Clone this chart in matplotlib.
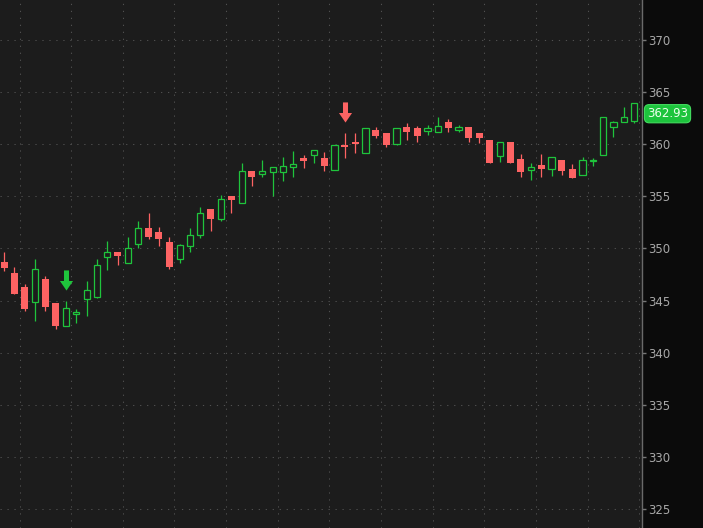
import matplotlib
matplotlib.use("Agg")
import matplotlib.pyplot as plt
import numpy as np
from matplotlib.path import Path
from matplotlib.transforms import offset_copy, blended_transform_factory

# OHLC, one entry per bar
opens = [348.70, 347.64, 346.30, 344.83, 347.07, 344.76, 342.59, 343.76, 345.18, 345.37,
         349.15, 349.63, 348.57, 350.46, 351.96, 351.58, 350.62, 349.02, 350.26, 351.32,
         353.78, 352.85, 355.03, 354.33, 357.43, 357.17, 357.36, 357.31, 357.85, 358.68,
         358.94, 358.68, 357.56, 359.93, 360.21, 359.13, 361.34, 361.08, 359.99, 361.65,
         361.56, 361.24, 361.14, 362.13, 361.33, 361.63, 361.08, 360.41, 358.84, 360.21,
         358.58, 357.50, 358.01, 357.59, 358.46, 357.62, 357.08, 358.36, 358.94, 361.62,
         362.10, 362.26]
highs = [349.63, 348.19, 346.56, 348.99, 347.33, 344.76, 344.96, 344.16, 346.88, 348.99,
         350.74, 349.63, 351.07, 352.63, 353.40, 352.06, 351.07, 350.40, 351.93, 353.98,
         353.78, 355.10, 355.03, 358.17, 357.43, 358.46, 357.79, 358.74, 359.32, 358.94,
         359.45, 359.22, 359.90, 361.05, 361.05, 361.53, 361.62, 361.08, 361.53, 362.00,
         361.75, 361.82, 362.58, 362.39, 361.82, 361.63, 361.08, 360.41, 360.18, 360.21,
         359.06, 358.20, 359.06, 358.74, 358.46, 358.07, 358.74, 358.65, 362.58, 362.20,
         363.54, 363.93]
lows = [347.87, 345.60, 344.00, 343.07, 344.03, 342.24, 342.59, 342.88, 343.52, 345.21,
        347.93, 348.38, 348.57, 350.04, 350.94, 350.21, 348.00, 348.57, 349.69, 350.97,
        351.70, 352.66, 353.43, 354.33, 356.02, 356.83, 355.00, 356.50, 356.88, 357.75,
        358.23, 357.46, 357.56, 358.65, 359.13, 359.13, 360.57, 359.70, 359.90, 360.38,
        360.18, 360.86, 361.14, 361.14, 361.20, 360.18, 360.09, 358.17, 358.27, 358.20,
        356.88, 356.57, 356.88, 356.98, 357.08, 356.79, 357.08, 357.88, 358.94, 360.66,
        362.10, 362.00]
closes = [348.12, 345.66, 344.19, 348.00, 344.41, 342.59, 344.25, 343.93, 346.01, 348.41,
          349.63, 349.30, 350.01, 351.93, 351.13, 350.91, 348.25, 350.33, 351.26, 353.40,
          352.85, 354.71, 354.68, 357.40, 356.88, 357.43, 357.79, 357.88, 358.10, 358.42,
          359.45, 357.94, 359.90, 359.76, 360.05, 361.53, 360.82, 359.95, 361.53, 361.20,
          360.82, 361.53, 361.75, 361.59, 361.65, 360.63, 360.63, 358.23, 360.18, 358.23,
          357.36, 357.79, 357.65, 358.74, 357.46, 356.79, 358.46, 358.49, 362.58, 362.10,
          362.58, 363.93]

buy_signals = [6]
sell_signals = [33]
last_price = 362.93
price_ticks = [325, 330, 335, 340, 345, 350, 355, 360, 365, 370]

BG = "#1c1c1c"
PANEL = "#0b0b0b"
GREEN = "#1fc43c"
RED = "#fd6363"

fig = plt.figure(figsize=(7.03, 5.28), dpi=100, facecolor=PANEL)
ax = fig.add_axes([0, 0, 642 / 703, 1])
ax.set_facecolor(BG)

x = np.arange(len(opens))
o = np.array(opens)
h = np.array(highs)
l = np.array(lows)
c = np.array(closes)
up = c >= o

# wicks
ax.vlines(x[up], l[up], h[up], color=GREEN, linewidth=0.9, zorder=2)
ax.vlines(x[~up], l[~up], h[~up], color=RED, linewidth=0.9, zorder=2)

# bodies: hollow green for up bars, filled red for down bars
body_lo = np.minimum(o, c)
body_h = np.abs(c - o)
ax.bar(x[up], body_h[up], bottom=body_lo[up], width=0.6, facecolor=BG,
       edgecolor=GREEN, linewidth=0.9, zorder=3)
ax.bar(x[~up], body_h[~up], bottom=body_lo[~up], width=0.68, color=RED,
       linewidth=0, zorder=3)

# signal arrows (down arrows above the bar high)
arrow = Path([(-0.25, 1), (0.25, 1), (0.25, -0.05), (0.65, -0.05), (0, -1),
              (-0.65, -0.05), (-0.25, -0.05), (-0.25, 1)], closed=True)
above = offset_copy(ax.transData, fig=fig, y=21, units="dots")
for idx in buy_signals:
    ax.plot(idx, highs[idx], marker=arrow, markersize=14.5, color=GREEN,
            markeredgewidth=0, transform=above, zorder=4)
for idx in sell_signals:
    ax.plot(idx, highs[idx], marker=arrow, markersize=14.5, color=RED,
            markeredgewidth=0, transform=above, zorder=4)

ax.set_xlim(-0.39, 61.76)
ax.set_ylim(323.18, 373.84)

# grid
ax.set_yticks(price_ticks)
ax.set_xticks(np.arange(1.5, 62, 5))
ax.grid(True, color="#505050", linestyle=(0, (1.2, 5.5)), linewidth=0.75)
ax.set_axisbelow(True)
ax.tick_params(axis="x", length=0, labelbottom=False)

ax.yaxis.tick_right()
ax.tick_params(axis="y", length=3, width=1, color="#777777", labelcolor="#a8a8a8",
               labelsize=8.5, pad=1.5)
for side in ["left", "top", "bottom"]:
    ax.spines[side].set_visible(False)
ax.spines["right"].set_color("#6a6a6a")
ax.spines["right"].set_linewidth(1)

# last price bubble, a few pixels right of the axis line
trans = blended_transform_factory(ax.transAxes, ax.transData)
ax.text(1.0 + 5 / 642, last_price, f"{last_price:.2f}", transform=trans, ha="left",
        va="center", fontsize=8.5, color="#eaffea", zorder=5,
        bbox=dict(boxstyle="round,pad=0.22,rounding_size=0.4", fc="#1dc43d", ec="#44dd60", lw=0.8))

fig.savefig("out.png", dpi=100, facecolor=PANEL)
